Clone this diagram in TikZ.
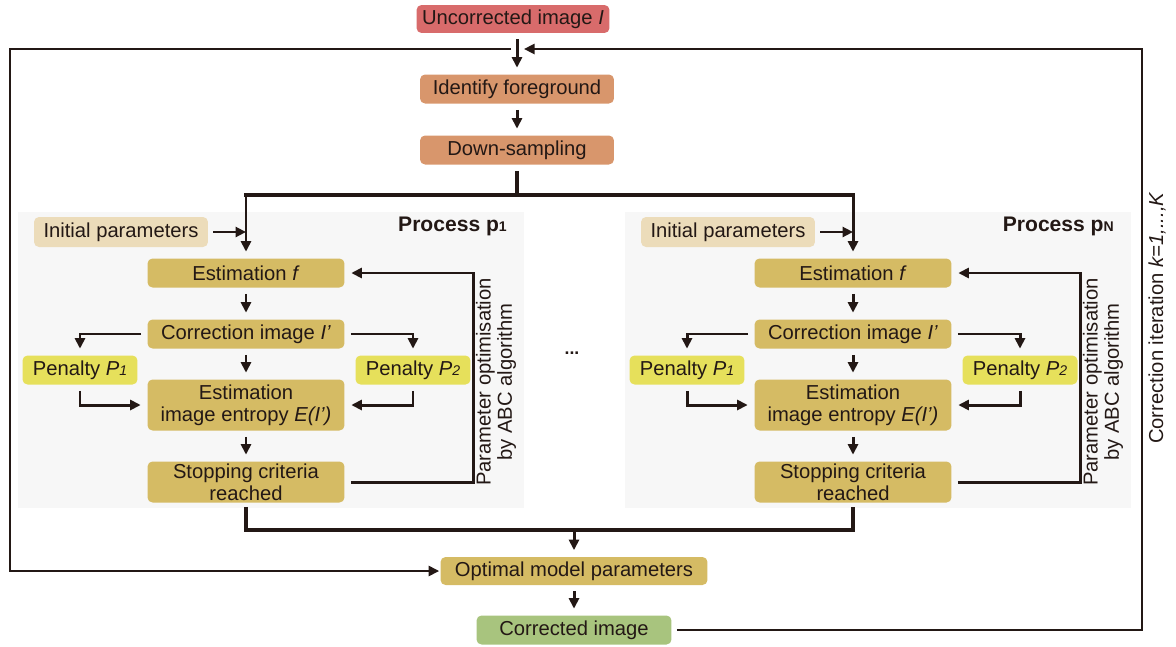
\documentclass[tikz,border=0pt]{standalone}
\usepackage{fontspec}
\setmainfont{Liberation Sans}
\usepackage{xcolor}
\usetikzlibrary{arrows.meta}

\definecolor{uncorrcol}{HTML}{D86B6B}
\definecolor{prepcol}{HTML}{D8966C}
\definecolor{initcol}{HTML}{ECDCBA}
\definecolor{proccol}{HTML}{D5BB64}
\definecolor{pencol}{HTML}{E6E05B}
\definecolor{corrcol}{HTML}{A8C47E}
\definecolor{panelcol}{HTML}{F7F7F7}
\definecolor{linecol}{HTML}{231815}

\newcommand{\idx}[1]{{\fontsize{8}{8}\selectfont #1}}

\tikzset{
  box/.style={rounded corners=0.1cm, inner sep=0pt, align=center, text=linecol,
    font=\fontsize{11.5}{12.5}\selectfont},
  procbox/.style={box, fill=proccol, minimum width=3.94cm, minimum height=0.58cm},
  penbox/.style={box, fill=pencol, minimum width=2.3cm, minimum height=0.58cm},
  conn/.style={line width=1.7pt, draw=linecol},
  arr/.style={conn, -{Triangle[length=0.21cm,width=0.2cm]}, shorten >=0.13cm, shorten <=0.12cm},
  bus/.style={line width=2.3pt, draw=linecol},
}

\begin{document}
\begin{tikzpicture}[x=0.02cm, y=-0.02cm]
    \useasboundingbox (0,0) rectangle (1176,646);

    % main column
    \node[box, fill=uncorrcol, minimum width=3.86cm, minimum height=0.56cm] (uncorr) at (513,19) {Uncorrected image \textit{I}};
    \node[box, fill=prepcol, minimum width=3.88cm, minimum height=0.58cm] (ident) at (517,89) {Identify foreground};
    \node[box, fill=prepcol, minimum width=3.88cm, minimum height=0.58cm] (down) at (517,150) {Down-sampling};
    \node[procbox, minimum width=5.34cm, minimum height=0.56cm] (optim) at (574,571) {Optimal model parameters};
    \node[box, fill=corrcol, minimum width=3.9cm, minimum height=0.58cm] (corrd) at (574,630) {Corrected image};

    \coordinate (topbus) at (517,195);
    \coordinate (botbus) at (574,530);

    % one panel per process
    \foreach \i/\dx in {1/0, N/607}{
        \fill[panelcol] (18+\dx,212) rectangle (524+\dx,508);
        \node[anchor=east, text=linecol, font=\bfseries\fontsize{12}{12}\selectfont] (lab\i) at (513+\dx,226) {Process p\idx{\i}};
        \node[box, fill=initcol, minimum width=3.48cm, minimum height=0.6cm] (init\i) at (121+\dx,232) {Initial parameters};
        \node[procbox] (est\i) at (246+\dx,273) {Estimation \textit{f}};
        \node[procbox] (corr\i) at (246+\dx,334) {Correction image \textit{I'}};
        \node[procbox, minimum height=1.02cm] (entr\i) at (246+\dx,405) {Estimation\\image entropy \textit{E(I')}};
        \node[procbox, minimum height=0.82cm] (stop\i) at (246+\dx,482) {Stopping criteria\\reached};
        \node[penbox] (pa\i) at (80+\dx,370) {Penalty \textit{P\idx{1}}};
        \node[penbox] (pb\i) at (413+\dx,370) {Penalty \textit{P\idx{2}}};
        \node[rotate=90, align=center, text=linecol, font=\fontsize{11.5}{12}\selectfont] (abc\i) at (496+\dx,382) {Parameter optimisation\\by ABC algorithm};
        \coordinate (fb\i) at (473+\dx,380);

        \draw[arr, shorten <=0.1cm, shorten >=0pt] (init\i.east) -- (init\i.east -| est\i.north);
        \draw[arr] (est\i) -- (corr\i);
        \draw[arr] (corr\i) -- (entr\i);
        \draw[arr] (entr\i) -- (stop\i);
        \draw[arr] (corr\i.west) -| (pa\i.north);
        \draw[arr] (corr\i.east) -| (pb\i.north);
        \draw[arr] (pa\i.south) |- (entr\i.west);
        \draw[arr] (pb\i.south) |- (entr\i.east);
        \draw[arr] (stop\i.east) -| (fb\i) |- (est\i.east);
    }

    \node[text=linecol, font=\bfseries] (dots) at (572,353) {...};

    % splitting and joining
    \draw[arr] (ident) -- (down);
    \draw[bus, shorten <=0.12cm] (down.south) -- (topbus);
    \draw[bus, line cap=rect] (est1.north |- topbus) -- (estN.north |- topbus);
    \foreach \i in {1,N}
        \draw[arr, shorten <=0pt] (est\i.north |- topbus) -- (est\i.north);
    \draw[bus, shorten <=0.08cm, shorten >=0.08cm] (stop1.south) -- (stop1.south |- botbus) -- (stopN.south |- botbus) -- (stopN.south);
    \draw[arr, shorten <=0pt] (botbus) -- (optim.north);
    \draw[arr] (optim) -- (corrd);
    \draw[arr] (uncorr.south -| ident.north) -- (ident.north);

    % correction loop
    \coordinate (tl) at (511,49);
    \coordinate (lt) at (10,49);
    \coordinate (rt) at (1142,49);
    \coordinate (tr) at (524,49);
    \draw[arr, line width=1.4pt, shorten <=0pt, shorten >=0.02cm] (tl) -- (lt) |- (optim.west);
    \draw[arr, line width=1.4pt, shorten <=0.1cm, shorten >=0pt] (corrd.east) -| (rt) -- (tr);
    \node[rotate=90, text=linecol, font=\fontsize{11.5}{12}\selectfont] (iter) at (1157,318) {Correction iteration \textit{k=1,...,K}};
\end{tikzpicture}
\end{document}
